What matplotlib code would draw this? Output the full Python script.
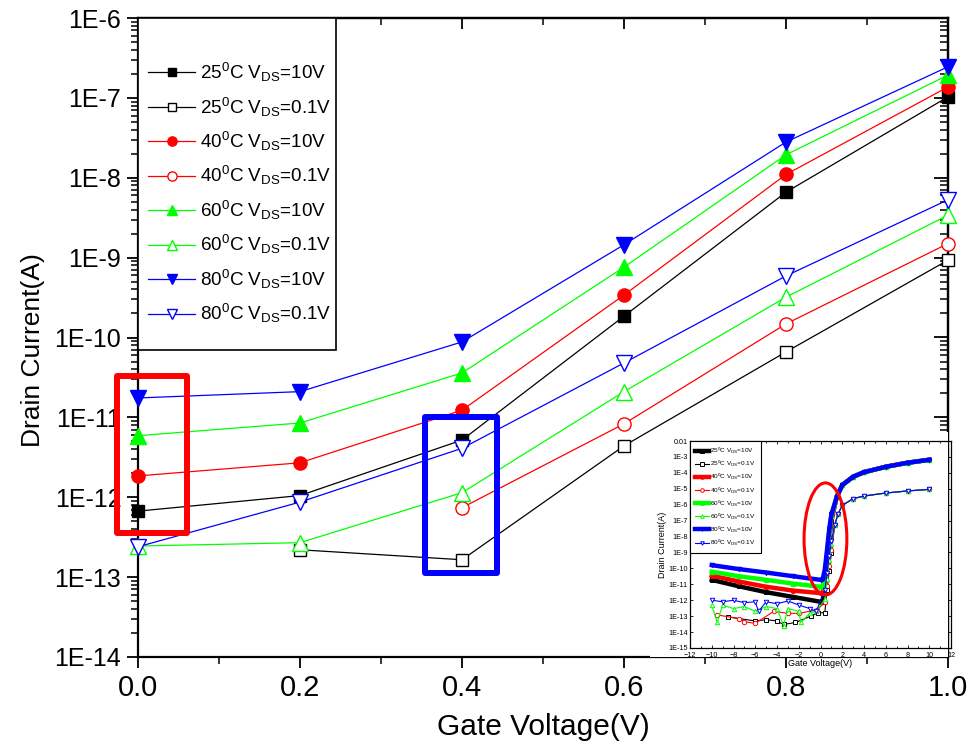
import matplotlib
matplotlib.use('Agg')
import matplotlib.pyplot as plt
import numpy as np
from matplotlib.patches import Rectangle, Ellipse
from matplotlib.ticker import FixedLocator, FixedFormatter, LogLocator, NullFormatter, MultipleLocator, FormatStrFormatter
from matplotlib import font_manager

plt.rcParams['font.family'] = ['Liberation Sans', 'DejaVu Sans']
plt.rcParams['mathtext.fontset'] = 'custom'
plt.rcParams['mathtext.rm'] = 'Liberation Sans'
plt.rcParams['mathtext.it'] = 'Liberation Sans:italic'
plt.rcParams['mathtext.bf'] = 'Liberation Sans:bold'

installed = {f.name for f in font_manager.fontManager.ttflist}
HAS_NARROW = 'Liberation Sans Narrow' in installed
NARROW = 'Liberation Sans Narrow' if HAS_NARROW else 'Liberation Sans'
narrow_size = 21 if HAS_NARROW else 18
ylabel_size = 22.5 if HAS_NARROW else 19

nan = np.nan

# ---------------- main chart data ----------------
gate_v = [0.0, 0.2, 0.4, 0.6, 0.8, 1.0]
i_25_10 = [6.7e-13, 1.05e-12, 5.2e-12, 1.85e-10, 6.6e-9, 1.03e-7]
i_25_01 = [nan, 2.2e-13, 1.65e-13, 4.4e-12, 6.6e-11, 9.3e-10]
i_40_10 = [1.85e-12, 2.7e-12, 1.23e-11, 3.4e-10, 1.1e-8, 1.37e-7]
i_40_01 = [nan, nan, 7.4e-13, 8.3e-12, 1.48e-10, 1.5e-9]
i_60_10 = [5.9e-12, 8.5e-12, 3.6e-11, 7.6e-10, 1.94e-8, 1.93e-7]
i_60_01 = [2.45e-13, 2.7e-13, 1.14e-12, 2.1e-11, 3.2e-10, 3.4e-9]
i_80_10 = [1.75e-11, 2.1e-11, 8.8e-11, 1.45e-9, 2.8e-8, 2.45e-7]
i_80_01 = [2.4e-13, 8.7e-13, 4.1e-12, 4.8e-11, 5.9e-10, 5.3e-9]

labels = [r'25$^{\mathrm{0}}$C V$_{\mathrm{DS}}$=10V', r'25$^{\mathrm{0}}$C V$_{\mathrm{DS}}$=0.1V',
          r'40$^{\mathrm{0}}$C V$_{\mathrm{DS}}$=10V', r'40$^{\mathrm{0}}$C V$_{\mathrm{DS}}$=0.1V',
          r'60$^{\mathrm{0}}$C V$_{\mathrm{DS}}$=10V', r'60$^{\mathrm{0}}$C V$_{\mathrm{DS}}$=0.1V',
          r'80$^{\mathrm{0}}$C V$_{\mathrm{DS}}$=10V', r'80$^{\mathrm{0}}$C V$_{\mathrm{DS}}$=0.1V']
y_ticks = [1e-14, 1e-13, 1e-12, 1e-11, 1e-10, 1e-9, 1e-8, 1e-7, 1e-6]
y_tick_labels = ['1E-14', '1E-13', '1E-12', '1E-11', '1E-10', '1E-9', '1E-8', '1E-7', '1E-6']

# highlight boxes (data coordinates: x0, x1, y0, y1)
red_box = (-0.026, 0.0605, 3.6e-13, 3.3e-11)
blue_box = (0.354, 0.443, 1.13e-13, 1.02e-11)

# ---------------- inset data ----------------
vg_off10 = [-10, -7.5, -5, -2.5, 0]
in_25_10_off = [1.9e-11, 7.5e-12, 3.2e-12, 1.6e-12, 8e-13]
in_40_10_off = [3.5e-11, 1.5e-11, 7e-12, 4e-12, 2.8e-12]
in_60_10_off = [6.2e-11, 3.2e-11, 1.9e-11, 1.1e-11, 7e-12]
in_80_10_off = [1.6e-10, 9e-11, 5.5e-11, 3.2e-11, 1.9e-11]
vg_on10 = [1.5, 2, 3, 4, 6, 8, 10]
in_on10 = [3.2e-6, 1.7e-5, 5.7e-5, 1.1e-4, 2.4e-4, 4.3e-4, 6.6e-4]
vg_on01 = [1.3, 1.6, 2, 3, 4, 6, 8, 10]
in_on01 = [5e-8, 2.5e-7, 9e-7, 2.4e-6, 3.5e-6, 5.4e-6, 7.3e-6, 9.2e-6]

vg_25_01_off = [-8.5, -6.0, -5.0, -4.0, -3.4, -2.3, -0.9, -0.2]
in_25_01_off = [9e-14, 5e-14, 6e-14, 5e-14, 3e-14, 4e-14, 1e-13, 1.6e-13]
vg_40_01_off = [-9.5, -7.5, -7.0, -6.0, -4.3, -3.0, -2.0, -0.3]
in_40_01_off = [1.2e-13, 7e-14, 4.5e-14, 3.5e-14, 2e-13, 1.5e-13, 1.5e-13, 2.5e-13]
vg_60_01_off = [-10, -9.5, -9, -8, -7, -6, -5, -4, -3.4, -3, -2, -1.8, -1, -0.4]
in_60_01_off = [5e-13, 4e-14, 5e-13, 3e-13, 4e-13, 2e-13, 4e-13, 3e-13, 2.5e-14, 3e-13, 2e-13, 4e-14, 1.5e-13, 2e-13]
vg_80_01_off = [-10, -9, -8, -7, -6, -5.7, -5, -4, -3, -2, -1, -0.4]
in_80_01_off = [1.0e-12, 8e-13, 1.0e-12, 7e-13, 8e-13, 2e-13, 8e-13, 6e-13, 9e-13, 5e-13, 3e-13, 2e-13]

in_y_ticks = [1e-15, 1e-14, 1e-13, 1e-12, 1e-11, 1e-10, 1e-9, 1e-8, 1e-7, 1e-6, 1e-5, 1e-4, 1e-3, 1e-2]
in_y_labels = ['1E-15', '1E-14', '1E-13', '1E-12', '1E-11', '1E-10', '1E-9', '1E-8', '1E-7', '1E-6',
               '1E-5', '1E-4', '1E-3', '0.01']
in_x_ticks = [-12, -10, -8, -6, -4, -2, 0, 2, 4, 6, 8, 10, 12]

colors = {'25': 'black', '40': '#ff0000', '60': '#00ff00', '80': '#0000ff'}

W, H = 968, 751
fig = plt.figure(figsize=(W / 100, H / 100), dpi=100)

def fx(px):
    return px / W

def fy(py):
    return 1 - py / H

ax = fig.add_axes([fx(138), fy(657), fx(948) - fx(138), fy(18) - fy(657)])
ax.set_yscale('log')
ax.set_xlim(0, 1)
ax.set_ylim(1e-14, 1e-6)

series = [
    ('25', i_25_10, 's', True), ('25', i_25_01, 's', False),
    ('40', i_40_10, 'o', True), ('40', i_40_01, 'o', False),
    ('60', i_60_10, '^', True), ('60', i_60_01, '^', False),
    ('80', i_80_10, 'v', True), ('80', i_80_01, 'v', False),
]
msize = {'s': 9, 'o': 9.5, '^': 11, 'v': 11}
handles = []
for (t, vals, m, filled), lab in zip(series, labels):
    c = colors[t]
    h, = ax.plot(gate_v, vals, color=c, lw=0.9, marker=m, ms=msize[m],
                 mfc=c if filled else 'white', mec=c, mew=1.0,
                 label=lab, clip_on=False, zorder=3)
    handles.append(h)

# ticks
ax.xaxis.set_major_locator(MultipleLocator(0.2))
ax.xaxis.set_minor_locator(MultipleLocator(0.1))
ax.xaxis.set_major_formatter(FormatStrFormatter('%.1f'))
ax.set_yticks(y_ticks, y_tick_labels, fontfamily=NARROW, fontsize=narrow_size)
ax.yaxis.set_minor_locator(LogLocator(base=10, subs=np.arange(2, 10)))
ax.yaxis.set_minor_formatter(NullFormatter())
ax.tick_params(axis='x', which='major', labelsize=21)
ax.tick_params(which='major', direction='out', length=8, width=1.3, pad=4)
ax.tick_params(which='minor', direction='out', length=5, width=1.1)
for s in ax.spines.values():
    s.set_linewidth(1.6)

secx = ax.secondary_xaxis('top')
secx.xaxis.set_major_locator(MultipleLocator(0.2))
secx.xaxis.set_minor_locator(MultipleLocator(0.1))
secx.xaxis.set_major_formatter(NullFormatter())
secx.tick_params(which='major', direction='in', length=8, width=1.3)
secx.tick_params(which='minor', direction='in', length=5, width=1.1)
secx.spines['top'].set_linewidth(1.6)

secy = ax.secondary_yaxis('right')
secy.yaxis.set_major_locator(FixedLocator(y_ticks))
secy.yaxis.set_major_formatter(NullFormatter())
secy.yaxis.set_minor_locator(LogLocator(base=10, subs=np.arange(2, 10)))
secy.yaxis.set_minor_formatter(NullFormatter())
secy.tick_params(which='major', direction='in', length=10, width=1.3)
secy.tick_params(which='minor', direction='in', length=6, width=1.1)
secy.spines['right'].set_linewidth(1.6)

ax.set_xlabel('Gate Voltage(V)', fontsize=21.5, labelpad=8)
ax.set_ylabel('Drain Current(A)', fontsize=ylabel_size, fontfamily=NARROW)
ax.yaxis.set_label_coords(-0.115, 0.48)

# legend box + legend
leg_box = Rectangle((fx(138), fy(350)), fx(336) - fx(138), fy(18) - fy(350), transform=fig.transFigure,
                    facecolor='white', edgecolor='black', lw=1.2, zorder=5)
ax.add_patch(leg_box)
leg_box.set_clip_on(False)
leg = ax.legend(handles=handles, loc='upper left', bbox_to_anchor=(fx(148), fy(61)),
                bbox_transform=fig.transFigure, frameon=False, fontsize=13.6,
                handlelength=2.5, handletextpad=0.25, labelspacing=0.6, markerscale=0.7,
                borderpad=0, borderaxespad=0)
leg.set_zorder(6)

# highlight boxes
for (x0, x1, y0, y1), c in [(red_box, '#ff0000'), (blue_box, '#0000ff')]:
    r = Rectangle((x0, y0), x1 - x0, y1 - y0, fill=False, edgecolor=c, lw=4.3,
                  joinstyle='round', clip_on=False, zorder=4)
    ax.add_patch(r)

# white area behind inset (inside main axes)
wp = Rectangle(((650 - 138) / 810, 0), 1 - (650 - 138) / 810, (657 - 432) / 639,
               transform=ax.transAxes, facecolor='white', edgecolor='none', zorder=3.5)
ax.add_patch(wp)

# ---------------- inset ----------------
axi = fig.add_axes([fx(690), fy(648), fx(951) - fx(690), fy(441) - fy(648)])
axi.set_facecolor('none')
axi.set_zorder(2)
axi.set_yscale('log')
axi.set_xlim(-12, 12)
axi.set_ylim(1e-15, 1e-2)

inset_sets = [
    ('25', 's', True, vg_off10, in_25_10_off), ('25', 's', False, vg_25_01_off, in_25_01_off),
    ('40', 'o', True, vg_off10, in_40_10_off), ('40', 'o', False, vg_40_01_off, in_40_01_off),
    ('60', '^', True, vg_off10, in_60_10_off), ('60', '^', False, vg_60_01_off, in_60_01_off),
    ('80', 'v', True, vg_off10, in_80_10_off), ('80', 'v', False, vg_80_01_off, in_80_01_off),
]
main_vals = {('25', True): i_25_10, ('25', False): i_25_01, ('40', True): i_40_10, ('40', False): i_40_01,
             ('60', True): i_60_10, ('60', False): i_60_01, ('80', True): i_80_10, ('80', False): i_80_01}
ih = []
for (t, m, filled, vx, vy), lab in zip(inset_sets, labels):
    c = colors[t]
    mv = main_vals[(t, filled)]
    if filled:
        xs = list(vx) + gate_v[1:] + vg_on10
        ys = list(vy) + mv[1:] + in_on10
        lw = 3.2
    else:
        xs = list(vx) + gate_v[2:] + vg_on01
        ys = list(vy) + mv[2:] + in_on01
        lw = 0.8
    h, = axi.plot(xs, ys, color=c, lw=lw, marker=m, ms=3.2, mfc=c if filled else 'white',
                  mec=c, mew=0.7, label=lab)
    ih.append(h)

axi.yaxis.set_major_locator(FixedLocator(in_y_ticks))
axi.yaxis.set_major_formatter(FixedFormatter(in_y_labels))
axi.yaxis.set_minor_locator(LogLocator(base=10, subs=np.arange(2, 10)))
axi.yaxis.set_minor_formatter(NullFormatter())
axi.xaxis.set_major_locator(FixedLocator(in_x_ticks))
axi.xaxis.set_minor_locator(MultipleLocator(1))
axi.tick_params(which='both', direction='in', top=True, right=True, labelsize=5.2, pad=1.5,
                length=2, width=0.6)
axi.tick_params(axis='x', which='major', pad=3)
axi.tick_params(which='minor', length=1.2)
for s in axi.spines.values():
    s.set_linewidth(0.9)
axi.set_xlabel('Gate Voltage(V)', fontsize=6.5, labelpad=0)
axi.set_ylabel('Drain Current(A)', fontsize=6.5, labelpad=1)

ileg = axi.legend(handles=ih, loc='upper left', bbox_to_anchor=(0.0, 1.0), fontsize=4.6,
                  fancybox=False, edgecolor='black', framealpha=1, handlelength=2.2,
                  handletextpad=0.2, labelspacing=0.45, borderpad=0.8, borderaxespad=0,
                  markerscale=0.8)
ileg.get_frame().set_linewidth(0.8)

ell = Ellipse((0.519, 0.527), 0.164, 0.541, transform=axi.transAxes, fill=False,
              edgecolor='#ff0000', lw=2.2, zorder=5)
axi.add_patch(ell)

fig.savefig('out.png', dpi=100)
